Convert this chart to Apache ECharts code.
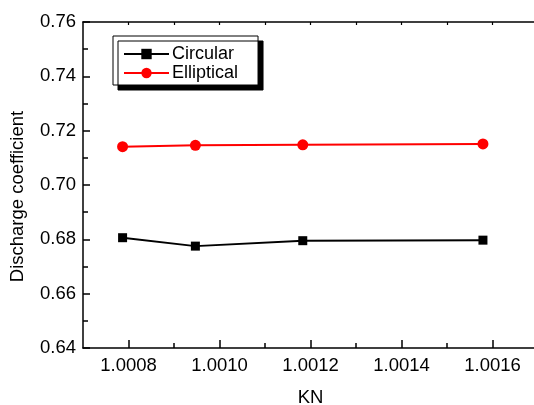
<!DOCTYPE html>
<html><head><meta charset="utf-8">
<script src="https://cdn.jsdelivr.net/npm/echarts@6/dist/echarts.min.js"></script>
<style>html,body{margin:0;padding:0;background:#fff}#c{width:534px;height:405px}</style>
</head><body><div id="c"></div>
<script>
const kn = [1.000787, 1.000947, 1.001183, 1.001579];
const circular = [0.6806, 0.6775, 0.6795, 0.6797];
const elliptical = [0.7141, 0.7146, 0.7148, 0.7151];
const xMajorTicks = [1.0008, 1.0010, 1.0012, 1.0014, 1.0016];
const xMinorTicks = [1.0009, 1.0011, 1.0013, 1.0015];

const FONT = 'Arial, "Liberation Sans", sans-serif';
const chart = echarts.init(document.getElementById('c'));
const xBase = {type:'value', min:1.0007, max:1.0017, gridIndex:0};
chart.setOption({
  animation:false,
  backgroundColor:'#fff',
  grid:{left:83, top:22, height:326, width:455, containLabel:false, outerBoundsMode:'none'},
  legend:{
    left:113, top:36, orient:'vertical',
    data:['Circular','Elliptical'],
    itemWidth:45, itemHeight:13, itemGap:0,
    padding:[8.5,20,2.5,10],
    backgroundColor:'#fff', borderColor:'#000', borderWidth:1,
    shadowColor:'#000', shadowBlur:0, shadowOffsetX:5, shadowOffsetY:5,
    textStyle:{fontFamily:FONT, fontSize:18, lineHeight:19, color:'#000', padding:[0,0,0,-2]}
  },
  xAxis:[
    Object.assign({}, xBase, {
      position:'bottom', name:'KN', nameLocation:'middle', nameGap:40,
      nameTextStyle:{fontFamily:FONT, fontSize:18.5, color:'#000'},
      axisLine:{show:true, onZero:false, lineStyle:{color:'#000', width:1.5}},
      axisTick:{show:true, inside:true, length:8, lineStyle:{color:'#000', width:1.5}, customValues:xMajorTicks},
      axisLabel:{show:true, margin:8, fontFamily:FONT, fontSize:18.5, color:'#000', customValues:xMajorTicks,
        formatter:v=>v.toFixed(4)},
      splitLine:{show:false}
    }),
    Object.assign({}, xBase, {
      position:'bottom',
      axisLine:{show:false, onZero:false},
      axisTick:{show:true, inside:true, length:5, lineStyle:{color:'#000', width:1.5}, customValues:xMinorTicks},
      axisLabel:{show:false}, splitLine:{show:false}
    }),
    Object.assign({}, xBase, {
      position:'top',
      axisLine:{show:true, onZero:false, lineStyle:{color:'#000', width:1.5}},
      axisTick:{show:true, inside:true, length:3, lineStyle:{color:'#000', width:1.2}, customValues:xMajorTicks.concat(xMinorTicks)},
      axisLabel:{show:false}, splitLine:{show:false}
    })
  ],
  yAxis:{
    type:'value', min:0.64, max:0.76, interval:0.02,
    name:'Discharge coefficient', nameLocation:'middle', nameGap:56,
    nameTextStyle:{fontFamily:FONT, fontSize:18.5, color:'#000', padding:[0,23,0,0]},
    axisLine:{show:true, onZero:false, lineStyle:{color:'#000', width:1.5}},
    axisTick:{show:true, inside:true, length:7, lineStyle:{color:'#000', width:1.5}},
    minorTick:{show:true, splitNumber:2, length:5, lineStyle:{color:'#000', width:1.5}},
    axisLabel:{margin:7, fontFamily:FONT, fontSize:18.5, color:'#000', formatter:v=>v.toFixed(2)},
    splitLine:{show:false}
  },
  series:[
    {name:'Circular', type:'line', xAxisIndex:0, data:kn.map((x,i)=>[x,circular[i]]),
      symbol:'rect', symbolSize:9, itemStyle:{color:'#000'}, lineStyle:{color:'#000', width:2}},
    {name:'Elliptical', type:'line', xAxisIndex:0, data:kn.map((x,i)=>[x,elliptical[i]]),
      symbol:'circle', symbolSize:11, itemStyle:{color:'#ff0000'}, lineStyle:{color:'#ff0000', width:2}}
  ]
});
</script></body></html>
